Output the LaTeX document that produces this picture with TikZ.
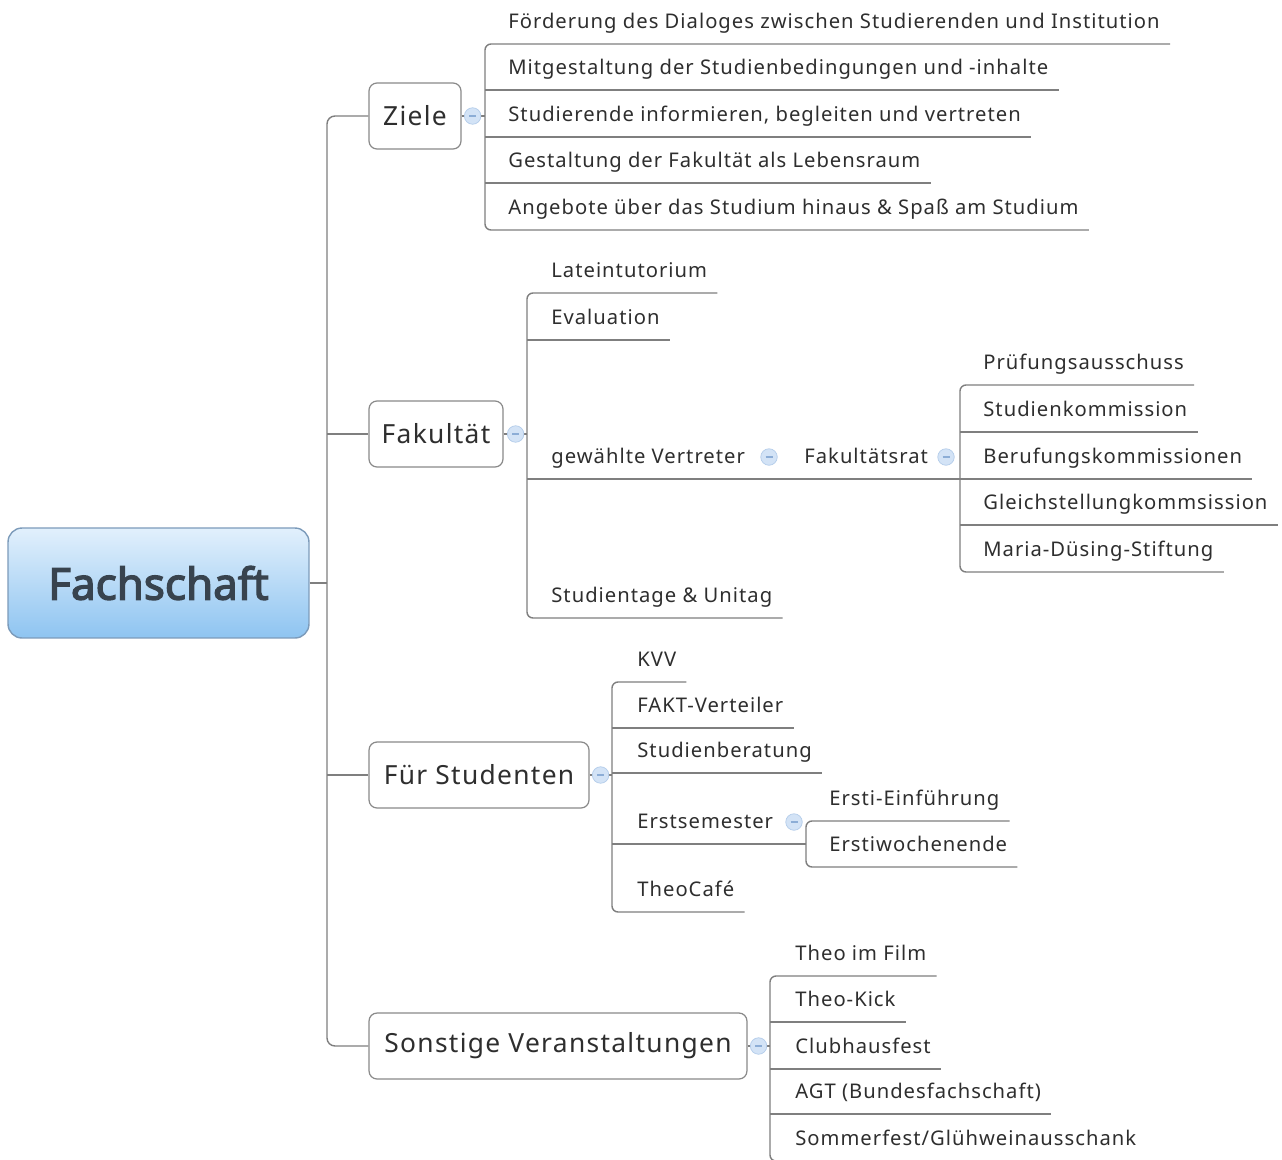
\documentclass[tikz,border=0pt]{standalone}
\usepackage{fontspec}
\setmainfont{Noto Sans}[LetterSpace=5]
\newfontfamily\rootfont{Noto Sans}[FakeBold=3]
\usetikzlibrary{shapes}
\usetikzlibrary{calc}

\definecolor{linegray}{HTML}{7F7F7F}
\definecolor{textgray}{HTML}{2E2E2E}
\definecolor{boxgray}{HTML}{8A8A8A}
\definecolor{roottop}{HTML}{E2F0FC}
\definecolor{rootbottom}{HTML}{8EC4F1}
\definecolor{rootborder}{HTML}{7C9BBA}
\definecolor{roottext}{HTML}{38434E}
\definecolor{markfill}{HTML}{D3E3F6}
\definecolor{markline}{HTML}{B3CCEA}
\definecolor{markminus}{HTML}{8CADD6}

\tikzset{
  rootbox/.style={draw=rootborder, line width=0.8pt, rounded corners=0.28cm,
    top color=roottop, bottom color=rootbottom, minimum width=6.02cm,
    minimum height=2.2cm, text=roottext, font=\rootfont\fontsize{25}{28}\selectfont},
  topic/.style={draw=boxgray, line width=0.7pt, rounded corners=0.16cm, fill=white,
    minimum height=1.32cm, text=textgray, font=\fontsize{15}{18}\selectfont},
  leaf/.style={anchor=base west, inner sep=0pt, text=textgray,
    font=\fontsize{11.5}{13}\selectfont},
  branch/.style={draw=linegray, line width=0.8pt, rounded corners=0.12cm},
  marker/.style={circle, draw=markline, fill=markfill, minimum size=0.33cm, inner sep=0pt,
    path picture={\draw[markminus, line width=0.8pt] ($(path picture bounding box.center)+(-3.5,0)$) -- ($(path picture bounding box.center)+(3.5,0)$);}}
}

\begin{document}
\begin{tikzpicture}[x=0.02cm, y=-0.02cm]
  \fill[white] (0,0) rectangle (1282,1160);
  \useasboundingbox (0,0) rectangle (1282,1160);

  \node[rootbox] (fachschaft) at (158.5,583) {Fachschaft};
  \node[topic, minimum width=1.84cm] (ziele) at (415,116) {Ziele};
  \node[topic, minimum width=2.68cm] (fakultaet) at (436,434) {Fakultät};
  \node[topic, minimum width=4.4cm] (studenten) at (479,775) {Für Studenten};
  \node[topic, minimum width=7.56cm] (sonstige) at (558,1046) {Sonstige Veranstaltungen};

  \coordinate (trunk) at (327,583);
  \draw[branch] (fachschaft.east) -- (trunk);
  \draw[branch, rounded corners=0.16cm] (ziele.west) -| (trunk) |- (sonstige.west);
  \draw[branch] (trunk |- fakultaet.west) -- (fakultaet.west);
  \draw[branch] (trunk |- studenten.west) -- (studenten.west);

  % Ziele
  \node[leaf] (z1) at (508,28) {Förderung des Dialoges zwischen Studierenden und Institution};
  \node[leaf] (z2) at (508,74) {Mitgestaltung der Studienbedingungen und -inhalte};
  \node[leaf] (z3) at (508,121) {Studierende informieren, begleiten und vertreten};
  \node[leaf] (z4) at (508,167) {Gestaltung der Fakultät als Lebensraum};
  \node[leaf] (z5) at (508,214) {Angebote über das Studium hinaus \& Spaß am Studium};

  \draw[branch] ($(z1.base east)+(10,16)$) -- ($(z1.base west)+(-23,16)$) -- ($(z5.base west)+(-23,16)$) -- ($(z5.base east)+(10,16)$);
  \draw[branch] ($(z2.base west)+(-23,16)$) -- ($(z2.base east)+(10,16)$);
  \draw[branch] ($(z3.base west)+(-23,16)$) -- ($(z3.base east)+(10,16)$);
  \draw[branch] ($(z4.base west)+(-23,16)$) -- ($(z4.base east)+(10,16)$);
  \draw[branch] (ziele.east) -- ($(ziele.east -| z1.base west)+(-23,0)$);

  % Fakultaet
  \node[leaf] (fa1) at (551,277) {Lateintutorium};
  \node[leaf] (fa2) at (551,324) {Evaluation};
  \node[leaf] (fa3) at (551,463) {gewählte Vertreter};
  \node[leaf] (fa4) at (551,602) {Studientage \& Unitag};
  \node[leaf] (fr) at (804,463) {Fakultätsrat};

  \node[leaf] (k1) at (983,369) {Prüfungsausschuss};
  \node[leaf] (k2) at (983,416) {Studienkommission};
  \node[leaf] (k3) at (983,463) {Berufungskommissionen};
  \node[leaf] (k4) at (983,509) {Gleichstellungkommsission};
  \node[leaf] (k5) at (983,556) {Maria-Düsing-Stiftung};

  \draw[branch] ($(fa1.base east)+(10,16)$) -- ($(fa1.base west)+(-24,16)$) -- ($(fa4.base west)+(-24,16)$) -- ($(fa4.base east)+(10,16)$);
  \draw[branch] ($(fa2.base west)+(-24,16)$) -- ($(fa2.base east)+(10,16)$);
  \draw[branch] ($(fa3.base west)+(-24,16)$) -- ($(k3.base east)+(10,16)$);
  \draw[branch] (fakultaet.east) -- ($(fakultaet.east -| fa1.base west)+(-24,0)$);

  \draw[branch] ($(k1.base east)+(10,16)$) -- ($(k1.base west)+(-23,16)$) -- ($(k5.base west)+(-23,16)$) -- ($(k5.base east)+(10,16)$);
  \draw[branch] ($(k2.base west)+(-23,16)$) -- ($(k2.base east)+(10,16)$);
  \draw[branch] ($(k4.base west)+(-23,16)$) -- ($(k4.base east)+(10,16)$);

  % Fuer Studenten
  \node[leaf] (s1) at (637,666) {KVV};
  \node[leaf] (s2) at (637,712) {FAKT-Verteiler};
  \node[leaf] (s3) at (637,757) {Studienberatung};
  \node[leaf] (s4) at (637,828) {Erstsemester};
  \node[leaf] (s5) at (637,896) {TheoCafé};

  \node[leaf] (e1) at (829,805) {Ersti-Einführung};
  \node[leaf] (e2) at (829,851) {Erstiwochenende};

  \draw[branch] ($(s1.base east)+(10,16)$) -- ($(s1.base west)+(-25,16)$) -- ($(s5.base west)+(-25,16)$) -- ($(s5.base east)+(10,16)$);
  \draw[branch] ($(s2.base west)+(-25,16)$) -- ($(s2.base east)+(10,16)$);
  \draw[branch] ($(s3.base west)+(-25,16)$) -- ($(s3.base east)+(10,16)$);
  \draw[branch] ($(s4.base west)+(-25,16)$) -- ($(s4.base west)+(169,16)$);
  \draw[branch] (studenten.east) -- ($(studenten.east -| s1.base west)+(-25,0)$);

  \draw[branch] ($(e1.base east)+(10,16)$) -- ($(e1.base west)+(-23,16)$) -- ($(e2.base west)+(-23,16)$) -- ($(e2.base east)+(10,16)$);

  % Sonstige Veranstaltungen
  \node[leaf] (o1) at (795,960) {Theo im Film};
  \node[leaf] (o2) at (795,1006) {Theo-Kick};
  \node[leaf] (o3) at (795,1053) {Clubhausfest};
  \node[leaf] (o4) at (795,1098) {AGT (Bundesfachschaft)};
  \node[leaf] (o5) at (795,1145) {Sommerfest/Glühweinausschank};

  \draw[branch] ($(o1.base east)+(10,16)$) -- ($(o1.base west)+(-25,16)$) -- ($(o5.base west)+(-25,16)$) -- ($(o5.base east)+(10,16)$);
  \draw[branch] ($(o2.base west)+(-25,16)$) -- ($(o2.base east)+(10,16)$);
  \draw[branch] ($(o3.base west)+(-25,16)$) -- ($(o3.base east)+(10,16)$);
  \draw[branch] ($(o4.base west)+(-25,16)$) -- ($(o4.base east)+(10,16)$);
  \draw[branch] (sonstige.east) -- ($(sonstige.east -| o1.base west)+(-25,0)$);

  % collapse markers
  \node[marker] (zielem) at ($(ziele.east)+(11,0)$) {};
  \node[marker] (fakultaetm) at ($(fakultaet.east)+(12,0)$) {};
  \node[marker] (studentenm) at ($(studenten.east)+(11,0)$) {};
  \node[marker] (sonstigem) at ($(sonstige.east)+(11,0)$) {};
  \node[marker] (fa3m) at ($(fa3.base west)+(218,-6)$) {};
  \node[marker] (frm) at ($(fr.base west)+(142,-6)$) {};
  \node[marker] (s4m) at ($(s4.base west)+(157,-6)$) {};
\end{tikzpicture}
\end{document}
